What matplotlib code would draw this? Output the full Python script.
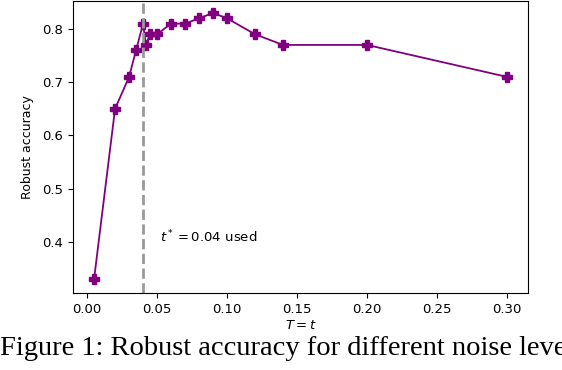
import matplotlib
matplotlib.use("Agg")
import matplotlib.pyplot as plt

# noise level T = t and robust accuracy
noise = [0.005, 0.02, 0.03, 0.035, 0.04, 0.042, 0.045, 0.05, 0.06, 0.07,
         0.08, 0.09, 0.10, 0.12, 0.14, 0.20, 0.30]
accuracy = [0.33, 0.65, 0.71, 0.76, 0.81, 0.77, 0.79, 0.79, 0.81, 0.81,
            0.82, 0.83, 0.82, 0.79, 0.77, 0.77, 0.71]
t_used = 0.04
xticks = [0.00, 0.05, 0.10, 0.15, 0.20, 0.25, 0.30]
yticks = [0.4, 0.5, 0.6, 0.7, 0.8]

fig = plt.figure(figsize=(5.62, 3.70), dpi=100)
ax = fig.add_axes([0.13, 0.208, 0.8095, 0.79])

ax.plot(noise, accuracy, color='purple', marker='P', markersize=7.5, linewidth=1.3)
ax.axvline(t_used, color='#999999', linestyle='--', linewidth=2)
ax.text(0.052, 0.41, r'$t^* = 0.04$ used', fontsize=9.5, va='center')

ax.set_xlim(-0.01, 0.315)
ax.set_ylim(0.304, 0.853)
ax.set_xticks(xticks)
ax.set_yticks(yticks)
ax.tick_params(labelsize=9.5)
ax.set_xlabel(r'$T = t$', fontsize=9.5, labelpad=2)
ax.set_ylabel('Robust accuracy', fontsize=9, labelpad=6)

# caption runs past the right edge, as in the reference
fig.text(0.0, 0.04, 'Figure 1: Robust accuracy for different noise levels',
         fontsize=20.5, family='Liberation Serif', va='baseline')

fig.savefig('out.png', dpi=100)
